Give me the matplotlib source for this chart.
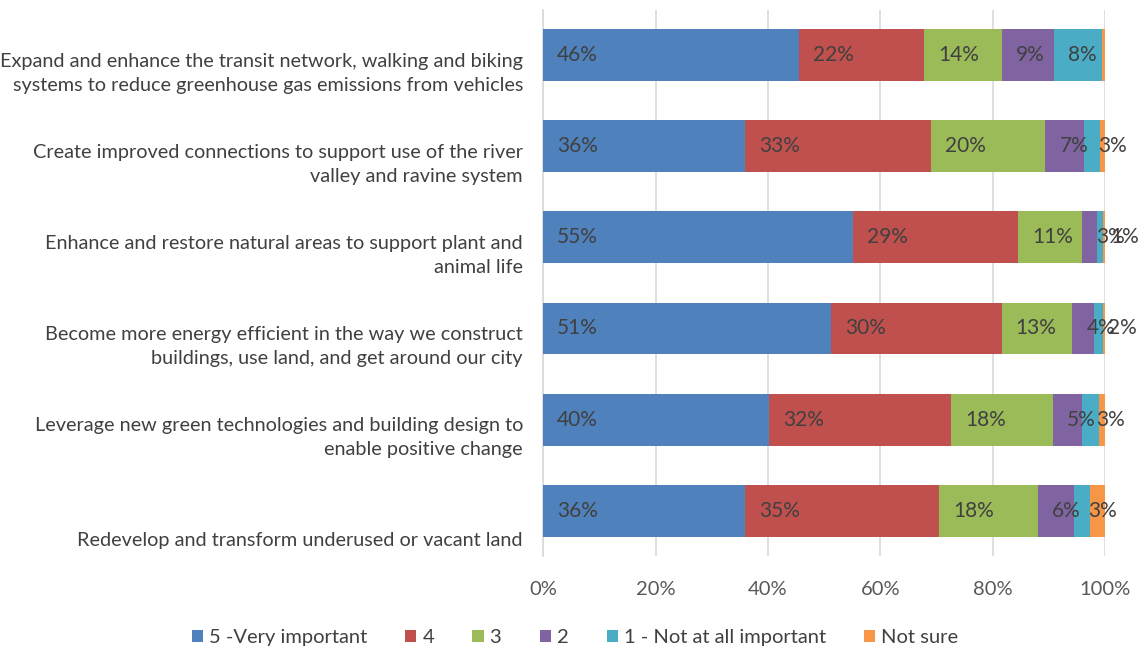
import matplotlib.pyplot as plt
import matplotlib.transforms as mtrans
import numpy as np

plt.rcParams['font.family'] = ['Lato', 'DejaVu Sans']

categories = [
    'Expand and enhance the transit network, walking and biking\nsystems to reduce greenhouse gas emissions from vehicles',
    'Create improved connections to support use of the river\nvalley and ravine system',
    'Enhance and restore natural areas to support plant and\nanimal life',
    'Become more energy efficient in the way we construct\nbuildings, use land, and get around our city',
    'Leverage new green technologies and building design to\nenable positive change',
    'Redevelop and transform underused or vacant land',
]
series = ['5 -Very important', '4', '3', '2', '1 - Not at all important', 'Not sure']
very_important = [45.6, 35.9, 55.2, 51.2, 40.2, 35.9]
four = [22.2, 33.1, 29.3, 30.4, 32.4, 34.6]
three = [13.8, 20.4, 11.4, 12.6, 18.2, 17.6]
two = [9.4, 6.9, 2.6, 3.8, 5.1, 6.4]
one = [8.4, 2.8, 1.2, 1.6, 3.0, 2.8]
not_sure = [0.6, 0.9, 0.3, 0.4, 1.1, 2.7]
colors = ['#4F81BD', '#C0504D', '#9BBB59', '#8064A2', '#4BACC6', '#F79646']

data = [very_important, four, three, two, one, not_sure]

fig = plt.figure(figsize=(11.41, 6.52), dpi=100)
ax = fig.add_axes([0.476, 0.147, 0.4925, 0.838])

y = np.arange(len(categories))
left = np.zeros(len(categories))
for k in range(len(series)):
    vals = np.array(data[k]) / 100
    ax.barh(y, vals, left=left, height=0.57, color=colors[k], label=series[k], zorder=3)
    # labels sit at the start of each segment, "Not sure" has none
    if k < 5:
        for i in range(len(y)):
            ax.annotate('%d%%' % round(data[k][i]), (left[i], y[i]), xytext=(10, 0),
                        textcoords='offset points', va='center', ha='left',
                        fontsize=15, color='#404040', zorder=4)
    left += vals

ax.set_xlim(0, 1)
ax.set_ylim(len(categories) - 0.5, -0.5)
ax.set_xticks([0, 0.2, 0.4, 0.6, 0.8, 1.0])
ax.set_xticklabels(['0%', '20%', '40%', '60%', '80%', '100%'], fontsize=14.5, color='#595959')
ax.set_yticks([])
ax.tick_params(axis='x', length=0, pad=18)
ax.grid(axis='x', color='#D9D9D9', linewidth=1.2, zorder=0)
for s in ['top', 'right', 'bottom']:
    ax.spines[s].set_visible(False)
ax.spines['left'].set_color('#D9D9D9')
ax.spines['left'].set_linewidth(1.2)

trans = mtrans.blended_transform_factory(ax.transAxes, ax.transData)
for i in range(len(categories)):
    ax.text(-0.036, y[i] + 0.42, categories[i], transform=trans, ha='right', va='bottom',
            fontsize=14.3, color='#404040', linespacing=1.5)

ax.legend(loc='center', bbox_to_anchor=(0.504, 0.022), bbox_transform=fig.transFigure,
          ncol=6, frameon=False, fontsize=14.5, handlelength=0.55, handleheight=0.55,
          handletextpad=0.3, columnspacing=1.9, labelcolor='#404040')

fig.savefig('out.png', dpi=100)
